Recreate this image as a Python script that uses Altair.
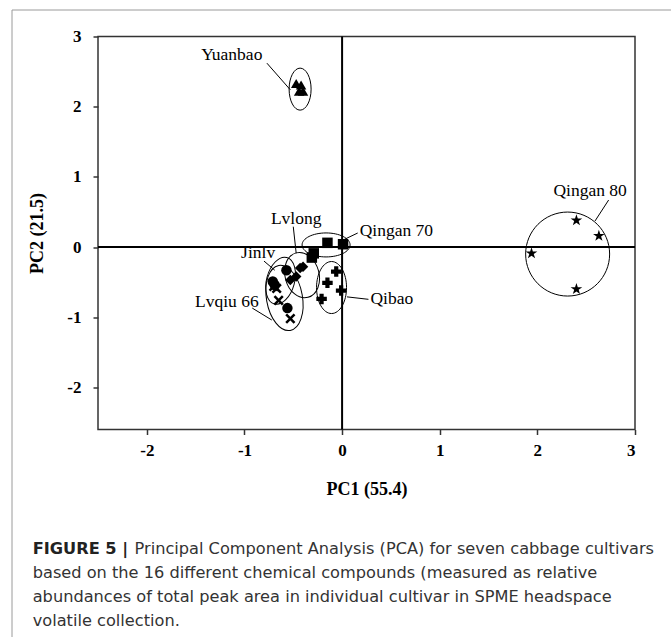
import altair as alt
import pandas as pd

# ---------------- data ----------------
yuanbao_x = [-0.47, -0.42, -0.44, -0.40]
yuanbao_y = [2.33, 2.31, 2.22, 2.22]
qingan80_x = [2.40, 2.63, 1.94, 2.40]
qingan80_y = [0.38, 0.16, -0.09, -0.60]
qingan70_x = [-0.15, 0.01, -0.29, -0.31]
qingan70_y = [0.06, 0.04, -0.09, -0.15]
lvlong_x = [-0.43, -0.53, -0.40, -0.47]
lvlong_y = [-0.30, -0.47, -0.28, -0.42]
jinlv_x = [-0.57, -0.71, -0.69, -0.56]
jinlv_y = [-0.33, -0.49, -0.54, -0.87]
lvqiu_x = [-0.70, -0.67, -0.65, -0.53]
lvqiu_y = [-0.56, -0.59, -0.76, -1.02]
qibao_x = [-0.06, -0.15, -0.01, -0.21]
qibao_y = [-0.35, -0.51, -0.62, -0.74]

x_ticks = [-2, -1, 0, 1, 2, 3]
y_ticks = [-2, -1, 0, 1, 2, 3]

# group labels: name, x, y
label_names = ["Yuanbao", "Lvlong", "Jinlv", "Lvqiu 66", "Qingan 80"]
label_x = [-1.13, -0.47, -0.86, -1.18, 2.54]
label_y = [2.735, 0.40, -0.09, -0.78, 0.80]
label_left_names = ["Qingan 70", "Qibao"]
label_left_x = [0.18, 0.29]
label_left_y = [0.225, -0.74]

# leader lines: x, y -> x2, y2
lead_x = [-0.77, -0.50, 0.01, -0.80, -0.92, 0.05, 2.73]
lead_y = [2.62, 0.29, 0.10, -0.20, -0.87, -0.71, 0.67]
lead_x2 = [-0.53, -0.47, 0.16, -0.69, -0.72, 0.27, 2.59]
lead_y2 = [2.24, -0.09, 0.20, -0.33, -1.04, -0.745, 0.37]

# group ellipses: centre x, centre y
ell_names = ["Yuanbao", "Qingan 80", "Qingan 70", "Qibao", "Lvlong", "Jinlv", "Lvqiu 66"]
ell_x = [-0.43, 2.31, -0.164, -0.108, -0.41, -0.63, -0.59]
ell_y = [2.25, -0.10, 0.03, -0.577, -0.40, -0.48, -0.725]

caption_bold = "FIGURE 5 |"
caption_lines = [
    "Principal Component Analysis (PCA) for seven cabbage cultivars",
    "based on the 16 different chemical compounds (measured as relative",
    "abundances of total peak area in individual cultivar in SPME headspace",
    "volatile collection.",
]

# ---------------- styles ----------------
SERIF = "Liberation Serif"
SANS = "DejaVu Sans"
STAR = ("M0,-1L0.225,-0.309L0.951,-0.309L0.363,0.118L0.588,0.809L0,0.382"
        "L-0.588,0.809L-0.363,0.118L-0.951,-0.309L-0.225,-0.309Z")
XMARK = "M-1,-1L1,1M-1,1L1,-1"
# ellipse pixel semi-axes and rotation (style of the annotation outlines)
ell_rx = [11, 42, 24, 15, 17, 14, 18]
ell_ry = [21, 42, 12, 26, 23, 24, 33]
ell_angle = [0, 0, 0, 0, 345, 15, 350]

W, H = 537, 393
PAD = {"left": 98, "top": 36.5, "right": 36, "bottom": 207.5}

XS = alt.Scale(domain=[-2.5, 3], nice=False, zero=False)
YS = alt.Scale(domain=[-2.6, 3], nice=False, zero=False)

points = pd.concat([
    pd.DataFrame({"cultivar": "Yuanbao", "x": yuanbao_x, "y": yuanbao_y}),
    pd.DataFrame({"cultivar": "Qingan 70", "x": qingan70_x, "y": qingan70_y}),
    pd.DataFrame({"cultivar": "Lvlong", "x": lvlong_x, "y": lvlong_y}),
    pd.DataFrame({"cultivar": "Jinlv", "x": jinlv_x, "y": jinlv_y}),
    pd.DataFrame({"cultivar": "Qibao", "x": qibao_x, "y": qibao_y}),
], ignore_index=True)
stars = pd.DataFrame({"cultivar": "Qingan 80", "x": qingan80_x, "y": qingan80_y})
xpts = pd.DataFrame({"cultivar": "Lvqiu 66", "x": lvqiu_x, "y": lvqiu_y})

shape_dom = ["Yuanbao", "Qingan 70", "Lvlong", "Jinlv", "Qibao"]
shape_rng = ["triangle-up", "square", "diamond", "circle", "cross"]

LBL = "replace(datum.label, '\u2212', '-')"
xenc = alt.X("x:Q", scale=XS, axis=alt.Axis(
    values=x_ticks, format="d", title="PC1 (55.4)", labelExpr=LBL,
    titlePadding=22, labelPadding=8))
yenc = alt.Y("y:Q", scale=YS, axis=alt.Axis(
    values=y_ticks, format="d", title="PC2 (21.5)", labelExpr=LBL,
    titlePadding=20, labelPadding=12))

XQ = alt.X("x:Q", scale=XS)
YQ = alt.Y("y:Q", scale=YS)

base_pts = alt.Chart(points).mark_point(filled=True, color="black", opacity=1, size=110).encode(
    x=xenc, y=yenc,
    shape=alt.Shape("cultivar:N", scale=alt.Scale(domain=shape_dom, range=shape_rng), legend=None),
)
star_pts = alt.Chart(stars).mark_point(filled=True, color="black", opacity=1, size=150,
                                       shape=STAR).encode(x=XQ, y=YQ)
x_pts = alt.Chart(xpts).mark_point(filled=False, color="black", opacity=1, size=70,
                                   strokeWidth=2.5, shape=XMARK).encode(x=XQ, y=YQ)

zero_v = alt.Chart(pd.DataFrame({"x": [0]})).mark_rule(color="black", strokeWidth=2).encode(x=XQ)
zero_h = alt.Chart(pd.DataFrame({"y": [0]})).mark_rule(color="black", strokeWidth=2).encode(y=YQ)

leaders = alt.Chart(pd.DataFrame({"x": lead_x, "y": lead_y, "x2": lead_x2, "y2": lead_y2})).mark_rule(
    color="black", strokeWidth=1).encode(x=XQ, y=YQ, x2="x2:Q", y2="y2:Q")

labels_c = alt.Chart(pd.DataFrame({"t": label_names, "x": label_x, "y": label_y})).mark_text(
    font=SERIF, fontSize=17.5, color="black", align="center", baseline="middle").encode(
    x=XQ, y=YQ, text="t:N")
labels_l = alt.Chart(pd.DataFrame({"t": label_left_names, "x": label_left_x, "y": label_left_y})).mark_text(
    font=SERIF, fontSize=17.5, color="black", align="left", baseline="middle").encode(
    x=XQ, y=YQ, text="t:N")

ellipses = []
for nm, ex, ey, rx, ry, ang in zip(ell_names, ell_x, ell_y, ell_rx, ell_ry, ell_angle):
    m = max(rx, ry)
    a, b = rx / m, ry / m
    path = (f"M{-a:.4f},0A{a:.4f},{b:.4f} 0 1,0 {a:.4f},0"
            f"A{a:.4f},{b:.4f} 0 1,0 {-a:.4f},0Z")
    ellipses.append(
        alt.Chart(pd.DataFrame({"x": [ex], "y": [ey]})).mark_point(
            filled=False, color="black", opacity=1, strokeWidth=1, shape=path,
            size=(2 * m) ** 2, angle=ang).encode(x=XQ, y=YQ))

# figure frame and caption (placed in the padding area)
frame_top = alt.Chart(pd.DataFrame({"a": [0]})).mark_rule(color="#9a9a9a", strokeWidth=1).encode(
    x=alt.value(-86), x2=alt.value(W + PAD["right"]), y=alt.value(-26.5))
frame_left = alt.Chart(pd.DataFrame({"a": [0]})).mark_rule(color="#9a9a9a", strokeWidth=1).encode(
    x=alt.value(-86), y=alt.value(-26.5), y2=alt.value(H + PAD["bottom"]))

cap_y = [512.5, 536.5, 560.5, 584.5]
cap = [alt.Chart(pd.DataFrame({"t": [caption_bold]})).mark_text(
    font=SANS, fontSize=16.2, fontWeight="bold", color="#222222", align="left", baseline="middle").encode(
    x=alt.value(-65.3), y=alt.value(cap_y[0]), text="t:N")]
for i, line in enumerate(caption_lines):
    cap.append(alt.Chart(pd.DataFrame({"t": [line]})).mark_text(
        font=SANS, fontSize=16.2, color="#333333", align="left", baseline="middle").encode(
        x=alt.value(36.5 if i == 0 else -65.3), y=alt.value(cap_y[i]), text="t:N"))

chart = alt.layer(
    zero_v, zero_h, *ellipses, leaders, base_pts, star_pts, x_pts, labels_c, labels_l,
    frame_top, frame_left, *cap
).properties(
    width=W, height=H, autosize=alt.AutoSizeParams(type="none"), padding=PAD
).configure_view(
    stroke="#333333", strokeWidth=1.5
).configure_axis(
    grid=False, domain=False, tickColor="#333333", tickWidth=1.5, tickSize=5,
    labelFont=SERIF, labelFontWeight="bold", labelFontSize=17, labelColor="black",
    titleFont=SERIF, titleFontWeight="bold", titleFontSize=18, titleColor="black",
)

chart.save("out.html", embed_options={"renderer": "svg", "actions": False})
